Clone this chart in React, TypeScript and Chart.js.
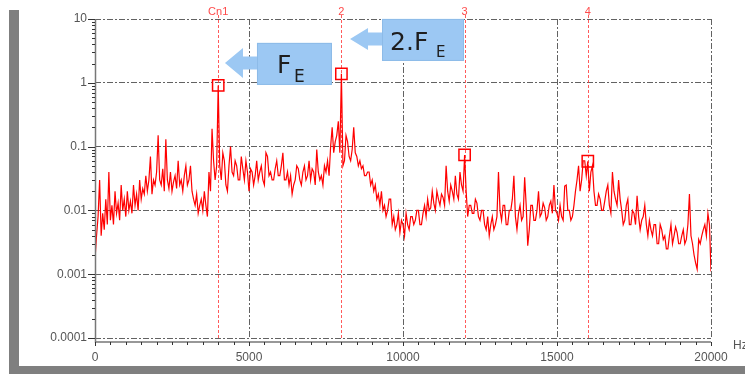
import React, { useEffect, useRef } from 'react';
import { Chart, registerables } from 'chart.js';

Chart.register(...registerables);

// ---- data ----
const FREQ_STEP_HZ = 50;
const amplitude: number[] = [
  // 0 - 950 Hz
  0.0017, 0.004, 0.008, 0.03, 0.004, 0.009, 0.005, 0.015, 0.006, 0.04,
  0.007, 0.012, 0.006, 0.02, 0.009, 0.013, 0.007, 0.025, 0.01, 0.015,
  // 1000 - 1950
  0.008, 0.02, 0.01, 0.014, 0.009, 0.025, 0.012, 0.018, 0.01, 0.03,
  0.015, 0.022, 0.018, 0.035, 0.02, 0.03, 0.07, 0.018, 0.03, 0.025,
  // 2000 - 2950
  0.04, 0.15, 0.03, 0.025, 0.045, 0.02, 0.13, 0.03, 0.022, 0.04,
  0.02, 0.028, 0.035, 0.022, 0.06, 0.025, 0.03, 0.02, 0.035, 0.05,
  // 3000 - 3950
  0.025, 0.03, 0.05, 0.02, 0.015, 0.012, 0.018, 0.009, 0.012, 0.015,
  0.01, 0.02, 0.012, 0.008, 0.04, 0.02, 0.19, 0.06, 0.03, 0.05,
  // 4000 - 4950
  0.91, 0.05, 0.03, 0.08, 0.06, 0.025, 0.02, 0.05, 0.1, 0.04,
  0.035, 0.06, 0.05, 0.03, 0.03, 0.07, 0.045, 0.03, 0.06, 0.04,
  // 5000 - 5950
  0.02, 0.045, 0.04, 0.025, 0.035, 0.06, 0.03, 0.04, 0.05, 0.03,
  0.025, 0.08, 0.07, 0.035, 0.04, 0.03, 0.03, 0.045, 0.06, 0.035,
  // 6000 - 6950
  0.035, 0.05, 0.08, 0.03, 0.03, 0.04, 0.025, 0.035, 0.018, 0.025,
  0.03, 0.05, 0.045, 0.03, 0.025, 0.04, 0.05, 0.03, 0.035, 0.06,
  // 7000 - 7950
  0.03, 0.045, 0.04, 0.025, 0.09, 0.04, 0.03, 0.035, 0.025, 0.05,
  0.04, 0.06, 0.035, 0.1, 0.2, 0.08, 0.12, 0.15, 0.25, 0.08,
  // 8000 - 8950
  1.38, 0.05, 0.06, 0.15, 0.12, 0.07, 0.06, 0.09, 0.2, 0.08,
  0.07, 0.05, 0.06, 0.045, 0.05, 0.035, 0.035, 0.04, 0.04, 0.025,
  // 9000 - 9950
  0.03, 0.02, 0.025, 0.015, 0.018, 0.012, 0.02, 0.01, 0.012, 0.008,
  0.01, 0.015, 0.015, 0.006, 0.008, 0.005, 0.006, 0.009, 0.0045, 0.007,
  // 10000 - 10950
  0.006, 0.004, 0.009, 0.006, 0.005, 0.008, 0.008, 0.006, 0.007, 0.01,
  0.01, 0.006, 0.006, 0.009, 0.012, 0.008, 0.015, 0.01, 0.011, 0.02,
  // 11000 - 11950
  0.013, 0.01, 0.02, 0.015, 0.012, 0.018, 0.016, 0.012, 0.05, 0.02,
  0.014, 0.025, 0.02, 0.015, 0.035, 0.018, 0.015, 0.04, 0.025, 0.02,
  // 12000 - 12950
  0.074, 0.02, 0.008, 0.012, 0.012, 0.009, 0.009, 0.015, 0.013, 0.008,
  0.007, 0.01, 0.01, 0.006, 0.005, 0.008, 0.004, 0.006, 0.008, 0.005,
  // 13000 - 13950
  0.006, 0.008, 0.04, 0.01, 0.007, 0.012, 0.012, 0.006, 0.006, 0.01,
  0.01, 0.015, 0.035, 0.008, 0.005, 0.009, 0.012, 0.007, 0.008, 0.033,
  // 14000 - 14950
  0.012, 0.0028, 0.005, 0.012, 0.012, 0.007, 0.007, 0.01, 0.02, 0.008,
  0.009, 0.013, 0.011, 0.007, 0.008, 0.012, 0.014, 0.009, 0.025, 0.01,
  // 15000 - 15950
  0.009, 0.007, 0.012, 0.008, 0.007, 0.024, 0.025, 0.01, 0.01, 0.007,
  0.008, 0.012, 0.02, 0.03, 0.05, 0.02, 0.03, 0.06, 0.06, 0.035,
  // 16000 - 16950
  0.059, 0.02, 0.04, 0.05, 0.02, 0.012, 0.012, 0.018, 0.015, 0.01,
  0.01, 0.014, 0.02, 0.025, 0.012, 0.009, 0.04, 0.02, 0.015, 0.012,
  // 17000 - 17950
  0.03, 0.015, 0.01, 0.006, 0.007, 0.012, 0.015, 0.006, 0.006, 0.01,
  0.009, 0.006, 0.017, 0.008, 0.005, 0.007, 0.008, 0.012, 0.006, 0.004,
  // 18000 - 18950
  0.007, 0.005, 0.004, 0.006, 0.006, 0.003, 0.003, 0.006, 0.005, 0.0035,
  0.004, 0.0025, 0.0025, 0.004, 0.006, 0.003, 0.004, 0.0055, 0.0045, 0.003,
  // 19000 - 19950
  0.003, 0.004, 0.005, 0.003, 0.0035, 0.006, 0.018, 0.004, 0.003, 0.002,
  0.0015, 0.0012, 0.0035, 0.003, 0.004, 0.005, 0.006, 0.004, 0.009, 0.006,
  // 20000
  0.0011,
];
const freqHz: number[] = amplitude.map((_, i) => i * FREQ_STEP_HZ);

const cursorHz = [4000, 8000, 12000, 16000];
const cursorLabels = ['Cn1', '2', '3', '4'];
const markerHz = [4000, 8000, 12000, 16000];
const markerAmp = [0.91, 1.38, 0.074, 0.059];

const xTickValues = [0, 5000, 10000, 15000, 20000];
const yTickValues = [10, 1, 0.1, 0.01, 0.001, 0.0001];
const xUnit = 'Hz';

const calloutTipHz = [4220, 8280];
const calloutTipAmp = [2.05, 4.87];
const calloutMain = ['F', '2.F'];
const calloutSub = ['E', 'E'];

// ---- styles / geometry ----
const calloutStyle = [
  { headHalf: 15, boxW: 75, textDx: 20, textBase: 30, subDx: 37, subBase: 39, font: 25, subFont: 17 },
  { headHalf: 11, boxW: 82, textDx: 8, textBase: 31, subDx: 54, subBase: 38, font: 25, subFont: 15 },
];
const LABEL_FONT = "'Liberation Sans', Arial, sans-serif";
const CALLOUT_FONT = "'DejaVu Sans', 'Noto Sans', sans-serif";
const GRID_COLOR = 'rgba(70,70,70,0.85)';

const decor = {
  id: 'decor',
  beforeDatasetsDraw(chart: any) {
    const { ctx, chartArea: a, scales } = chart;
    const x = scales.x;
    ctx.save();
    ctx.strokeStyle = 'rgba(255,50,50,0.8)';
    ctx.lineWidth = 1;
    ctx.setLineDash([3, 2]);
    cursorHz.forEach((hz) => {
      const px = Math.round(x.getPixelForValue(hz)) + 0.5;
      ctx.beginPath();
      ctx.moveTo(px, a.top - 4);
      ctx.lineTo(px, a.bottom);
      ctx.stroke();
    });
    ctx.restore();
  },
  afterDraw(chart: any) {
    const { ctx, chartArea: a, scales } = chart;
    const x = scales.x;
    const y = scales.y;
    ctx.save();

    // axis lines
    const axisY = a.bottom + 4;
    ctx.setLineDash([]);
    ctx.strokeStyle = '#777';
    ctx.lineWidth = 1.5;
    ctx.beginPath();
    ctx.moveTo(a.left + 0.5, a.top);
    ctx.lineTo(a.left + 0.5, axisY);
    ctx.lineTo(a.right, axisY);
    ctx.stroke();

    // x minor ticks
    ctx.strokeStyle = '#333';
    ctx.lineWidth = 1;
    for (let hz = 0; hz <= 20000; hz += 500) {
      const px = Math.round(x.getPixelForValue(hz)) + 0.5;
      ctx.beginPath();
      ctx.moveTo(px, axisY);
      ctx.lineTo(px, axisY + (hz % 5000 === 0 ? 4 : 3));
      ctx.stroke();
    }
    // y ticks
    for (let d = 0.0001; d < 10; d *= 10) {
      for (let k = 1; k <= 10; k++) {
        const v = d * k;
        const py = Math.round(y.getPixelForValue(v)) + 0.5;
        const len = k === 1 || k === 10 ? 7 : 3;
        ctx.beginPath();
        ctx.moveTo(a.left - len, py);
        ctx.lineTo(a.left, py);
        ctx.stroke();
      }
    }

    // cursor labels
    ctx.fillStyle = '#ff4a4a';
    ctx.font = `11px ${LABEL_FONT}`;
    ctx.textAlign = 'center';
    ctx.textBaseline = 'middle';
    cursorHz.forEach((hz, i) => {
      ctx.fillText(cursorLabels[i], x.getPixelForValue(hz), a.top - 7);
    });

    // unit label
    ctx.fillStyle = '#555';
    ctx.font = `12px ${LABEL_FONT}`;
    ctx.textAlign = 'left';
    ctx.fillText(xUnit, a.right + 22, axisY + 4);

    // callouts
    calloutTipHz.forEach((hz, i) => {
      const st = calloutStyle[i];
      const tx = x.getPixelForValue(hz);
      const ty = y.getPixelForValue(calloutTipAmp[i]);
      const bx = tx + 32;
      const by = ty - 20;
      ctx.fillStyle = '#9cc8f3';
      ctx.strokeStyle = '#8dbbe8';
      ctx.lineWidth = 1;
      ctx.beginPath();
      ctx.moveTo(tx, ty);
      ctx.lineTo(tx + 18, ty - st.headHalf);
      ctx.lineTo(tx + 18, ty - 6.5);
      ctx.lineTo(bx, ty - 6.5);
      ctx.lineTo(bx, ty + 6.5);
      ctx.lineTo(tx + 18, ty + 6.5);
      ctx.lineTo(tx + 18, ty + st.headHalf);
      ctx.closePath();
      ctx.fill();
      ctx.fillRect(bx, by, st.boxW, 42);
      ctx.strokeRect(bx + 0.5, by + 0.5, st.boxW - 1, 41);
      ctx.fillStyle = '#1e1e1e';
      ctx.textAlign = 'left';
      ctx.textBaseline = 'alphabetic';
      ctx.font = `${st.font}px ${CALLOUT_FONT}`;
      ctx.fillText(calloutMain[i], bx + st.textDx, by + st.textBase);
      ctx.font = `${st.subFont}px ${CALLOUT_FONT}`;
      ctx.fillText(calloutSub[i], bx + st.subDx, by + st.subBase);
    });

    // frame (shadow bars)
    ctx.fillStyle = '#7f7f7f';
    ctx.fillRect(9, 10, 10, 364);
    ctx.fillRect(9, 366, 736, 8);

    ctx.restore();
  },
};

export default function App() {
  const canvasRef = useRef<HTMLCanvasElement | null>(null);

  useEffect(() => {
    const canvas = canvasRef.current;
    if (!canvas) return;
    const chart = new Chart(canvas, {
      type: 'line',
      data: {
        datasets: [
          {
            label: 'markers',
            data: markerHz.map((f, i) => ({ x: f, y: markerAmp[i] })),
            showLine: false,
            pointStyle: 'rect',
            pointRadius: 8,
            borderColor: '#ff0000',
            borderWidth: 1.5,
            backgroundColor: 'rgba(0,0,0,0)',
            order: 1,
          },
          {
            label: 'spectrum',
            data: freqHz.map((f, i) => ({ x: f, y: amplitude[i] })),
            borderColor: '#ff0000',
            borderWidth: 1.2,
            pointRadius: 0,
            tension: 0,
            fill: false,
            order: 2,
          },
        ],
      },
      options: {
        responsive: false,
        animation: false,
        devicePixelRatio: 1,
        events: [],
        layout: { padding: { top: 19, right: 34, left: 0, bottom: 0 } },
        plugins: { legend: { display: false }, tooltip: { enabled: false } },
        scales: {
          x: {
            type: 'linear',
            min: 0,
            max: 20000,
            afterBuildTicks: (s: any) => {
              s.ticks = xTickValues.map((v) => ({ value: v }));
            },
            afterFit: (s: any) => {
              s.height = 38;
            },
            grid: { color: GRID_COLOR, lineWidth: 1, drawTicks: false },
            border: { display: false, dash: [6, 2, 2, 2] },
            ticks: {
              padding: 12,
              maxRotation: 0,
              autoSkip: false,
              color: '#555',
              font: { family: LABEL_FONT, size: 12 },
              callback: (v: any) => String(v),
            },
          },
          y: {
            type: 'logarithmic',
            min: 0.0001,
            max: 10,
            afterBuildTicks: (s: any) => {
              s.ticks = yTickValues.map((v) => ({ value: v }));
            },
            afterFit: (s: any) => {
              s.width = 95;
            },
            grid: { color: GRID_COLOR, lineWidth: 1, drawTicks: false },
            border: { display: false, dash: [6, 2, 2, 2] },
            ticks: {
              padding: 8,
              autoSkip: false,
              color: '#555',
              font: { family: LABEL_FONT, size: 12 },
              callback: (v: any) => String(v),
            },
          },
        },
      },
      plugins: [decor],
    } as any);
    return () => chart.destroy();
  }, []);

  return (
    <div style={{ position: 'fixed', left: 0, top: 0, width: 745, height: 376, background: '#fff' }}>
      <canvas ref={canvasRef} width={745} height={376} />
    </div>
  );
}
